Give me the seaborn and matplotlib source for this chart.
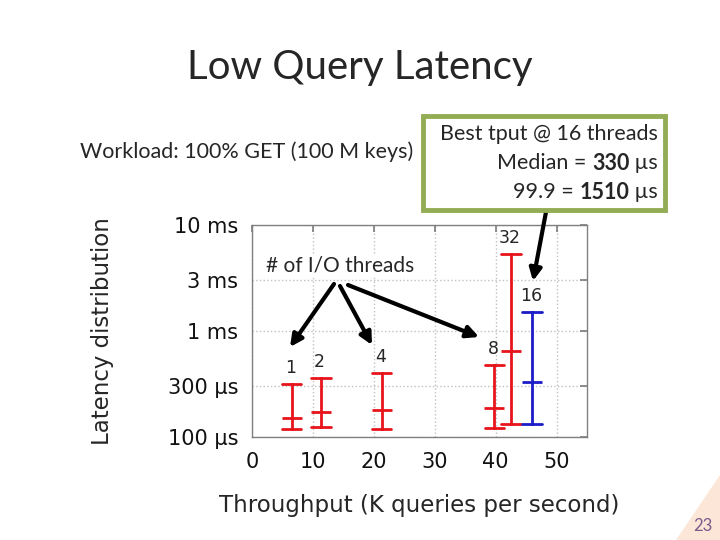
import numpy as np
import pandas as pd
import matplotlib.pyplot as plt
import seaborn as sns
from matplotlib.patches import Rectangle, Polygon

sns.set_theme(style="white")
plt.rcParams["font.family"] = ["DejaVu Sans"]

W, H = 720, 540
SLIDE_FONT = ["Lato", "DejaVu Sans"]

# I/O threads, throughput (K q/s) and latency (us): low / median / 99.9
threads = ["1", "2", "4", "8", "32", "16"]
tput = [6.5, 11.3, 21.3, 39.8, 42.5, 46.0]
lat_low = [119, 125, 119, 121, 133, 133]
lat_med = [152, 171, 180, 188, 651, 330]
lat_high = [316, 357, 398, 478, 5290, 1510]
series = ["other", "other", "other", "other", "other", "best"]

yticks = [100, 300, 1000, 3000, 10000]
ytick_labels = ["100 µs", "300 µs", "1 ms", "3 ms", "10 ms"]
xticks = [0, 10, 20, 30, 40, 50]

rows = []
for i in range(len(threads)):
    for v in (lat_low[i], lat_med[i], lat_high[i]):
        rows.append({"tput": tput[i], "lat": v, "series": series[i]})
df = pd.DataFrame(rows)

fig = plt.figure(figsize=(W / 100, H / 100), dpi=100)
ax = fig.add_axes([252 / W, 1 - 437 / H, 335 / W, 212 / H])

# cap half-width ~1.6K, seaborn scales capsize by the smallest x gap
min_gap = np.min(np.diff(np.unique(tput)))
sns.pointplot(data=df, x="tput", y="lat", hue="series", native_scale=True,
              estimator="median", errorbar=("pi", 100), capsize=3.2 / min_gap,
              palette={"other": "#e8141c", "best": "#1c1cc8"},
              markers="_", markersize=14.5, markeredgewidth=2,
              linestyle="none", err_kws={"linewidth": 2}, dodge=False,
              legend=False, ax=ax)

ax.set_yscale("log")
ax.set_xlim(0, 55)
ax.set_ylim(100, 10000)
ax.set_xticks(xticks)
ax.set_xticklabels([str(t) for t in xticks])
ax.set_yticks(yticks)
ax.set_yticklabels(ytick_labels)
ax.minorticks_off()
ax.grid(True, linestyle=":", color="#c0c0c0", linewidth=1)
for s in ax.spines.values():
    s.set_color("#808080")
    s.set_linewidth(1)
ax.tick_params(direction="in", top=True, right=True, color="#808080",
               length=5, labelsize=15, labelcolor="#111111")
ax.tick_params(axis="x", pad=11)
ax.tick_params(axis="y", pad=10)

ax.set_xlabel("Throughput (K queries per second)", fontsize=16.5)
ax.set_ylabel("Latency distribution", fontsize=16.5)
ax.xaxis.set_label_coords(0.5, -0.325)
ax.xaxis.label.set_va("center")
ax.yaxis.set_label_coords(-0.445, 0.5)
ax.yaxis.label.set_va("center")

for t, x, top in zip(threads, tput, lat_high):
    ax.annotate(t, (x, top), xytext=(-1, 5), textcoords="offset points",
                ha="center", va="bottom", fontsize=12.5)

# slide decorations
fig.text(360 / W, 1 - 68 / H, "Low Query Latency", ha="center", va="center",
         fontsize=29, family=SLIDE_FONT)
fig.text(80 / W, 1 - 152 / H, "Workload: 100% GET (100 M keys)", ha="left",
         va="center", fontsize=15.5, family=SLIDE_FONT)

fig.add_artist(Rectangle((423 / W, 1 - 210 / H), 242 / W, 94 / H,
                         transform=fig.transFigure, facecolor="white",
                         edgecolor="#93ad55", linewidth=3.5))


def rich_line(x_right, y, parts):
    renderer = fig.canvas.get_renderer()
    x = x_right
    for text, weight in reversed(parts):
        t = fig.text(x / W, 1 - y / H, text, ha="right", va="center",
                     fontsize=15.5, fontweight=weight, family=SLIDE_FONT)
        x = t.get_window_extent(renderer).x0


rich_line(658, 134, [("Best tput @ 16 threads", "normal")])
rich_line(658, 163, [("Median = ", "normal"), ("330", "bold"), (" µs", "normal")])
rich_line(658, 192, [("99.9 = ", "normal"), ("1510", "bold"), (" µs", "normal")])

fig.text(340 / W, 1 - 265 / H, "# of I/O threads", ha="center", va="center",
         fontsize=15, family=SLIDE_FONT,
         bbox=dict(facecolor="white", edgecolor="none", pad=1))

arrow = dict(arrowstyle="-|>", lw=3, color="black", mutation_scale=18,
             shrinkA=0, shrinkB=0)
for (x0, y0), (x1, y1) in [((334, 284), (290, 347)),
                           ((340, 286), (372, 345)),
                           ((348, 285), (479, 337)),
                           ((546, 212), (533, 281))]:
    ax.annotate("", xy=(x1, H - y1), xytext=(x0, H - y0),
                xycoords="figure pixels", textcoords="figure pixels",
                arrowprops=arrow, annotation_clip=False)

fig.add_artist(Polygon([(1, 1 - 475 / H), (1, 0), (676 / W, 0)],
                       closed=True, transform=fig.transFigure,
                       facecolor="#fce6d8", edgecolor="none"))
fig.text(703 / W, 1 - 526 / H, "23", ha="center", va="center", fontsize=12,
         color="#7a5b8a", family=SLIDE_FONT)

fig.savefig("out.png", dpi=100)
